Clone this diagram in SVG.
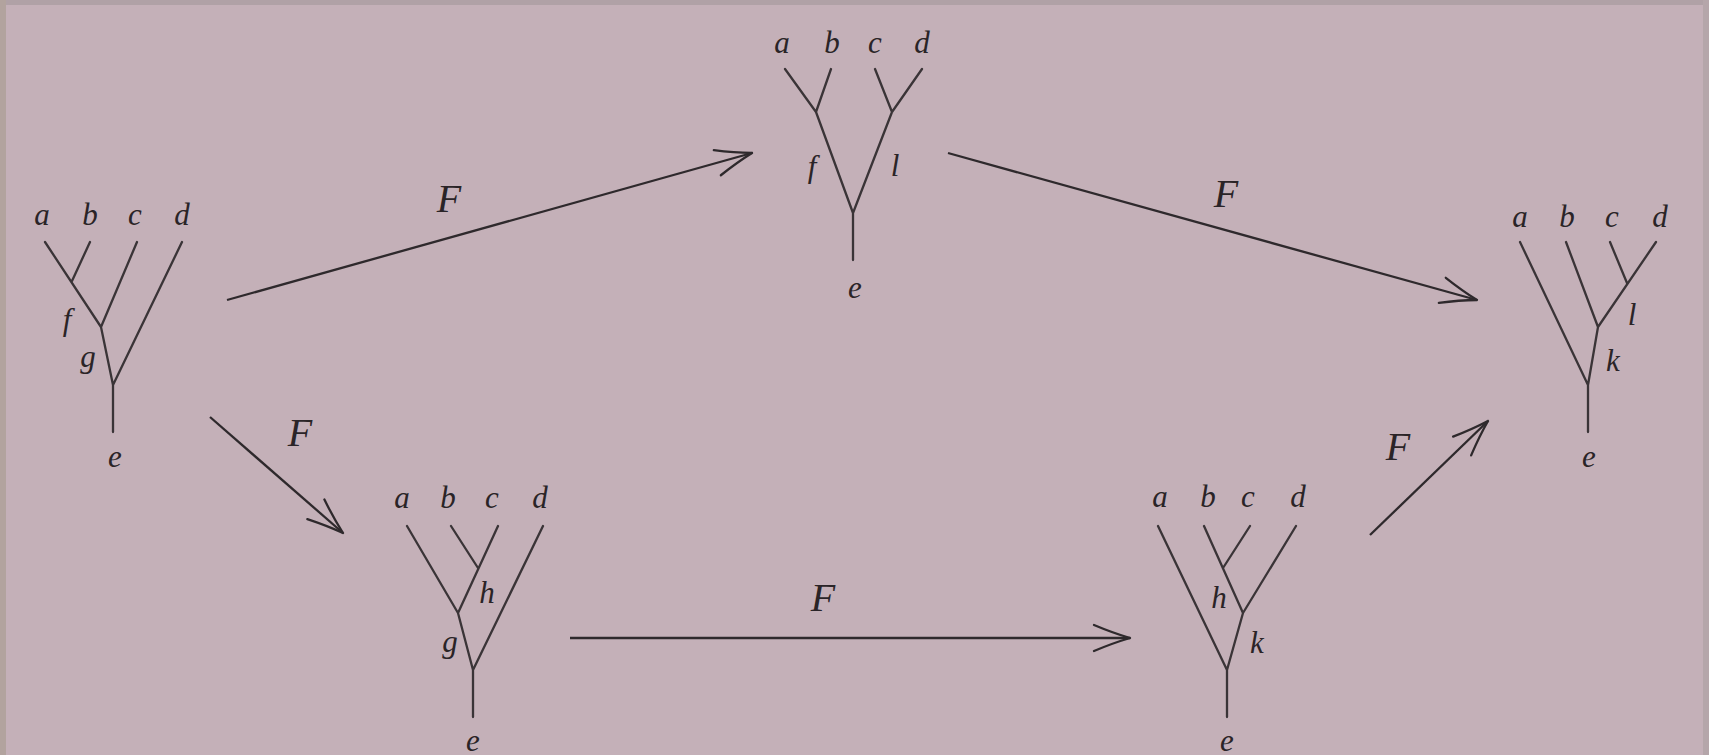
<svg xmlns="http://www.w3.org/2000/svg" width="1709" height="755" viewBox="0 0 1709 755">
<defs>
<style>
.bg{fill:#c4b0b8}
.ln{stroke:#3a3437;stroke-width:2.3;fill:none;stroke-linecap:round;stroke-linejoin:round}
.ar{stroke:#2e292c;stroke-width:2.3;fill:none}
.lb{font-family:"Liberation Serif",serif;font-style:italic;font-size:31px;fill:#2a2427;text-anchor:middle}
.F{font-family:"Liberation Serif",serif;font-style:italic;font-size:40px;fill:#2a2427;text-anchor:middle}
</style>
<marker id="head" markerUnits="userSpaceOnUse" viewBox="-40 -20 44 40" markerWidth="44" markerHeight="40" refX="0" refY="0" orient="auto" overflow="visible">
<path d="M-36,-13 Q-17,-5 0,0 M-36,13 Q-17,5 0,0" stroke="#2e292c" stroke-width="2.3" fill="none" stroke-linecap="round"/>
</marker>
</defs>
<rect class="bg" x="0" y="0" width="1709" height="755"/>
<rect x="0" y="0" width="1709" height="5" fill="#b0a1a6"/>
<rect x="0" y="0" width="6" height="755" fill="#b2a39e"/>
<rect x="1703" y="0" width="6" height="755" fill="#b5a6aa"/>

<g id="tree1">
<path class="ln" d="M45,242 L101,327 M90,242 L72,281 M137,242 L101,327 L113,385 M182,242 L113,385 L113,432"/>
<text class="lb" x="42" y="225">a</text>
<text class="lb" x="90" y="225">b</text>
<text class="lb" x="135" y="225">c</text>
<text class="lb" x="182" y="225">d</text>
<text class="lb" x="67" y="330">f</text>
<text class="lb" x="88" y="367">g</text>
<text class="lb" x="115" y="467">e</text>
</g>

<g id="tree2">
<path class="ln" d="M785,69 L816,112 M831,69 L816,112 L853,213 M875,69 L892,112 M922,69 L892,112 L853,213 L853,260"/>
<text class="lb" x="782" y="53">a</text>
<text class="lb" x="832" y="53">b</text>
<text class="lb" x="875" y="53">c</text>
<text class="lb" x="922" y="53">d</text>
<text class="lb" x="812" y="177">f</text>
<text class="lb" x="895" y="176">l</text>
<text class="lb" x="855" y="298">e</text>
</g>

<g id="tree3">
<path class="ln" d="M1520,242 L1588,385 L1588,432 M1566,242 L1598,327 L1588,385 M1656,242 L1598,327 M1610,242 L1627,283"/>
<text class="lb" x="1520" y="227">a</text>
<text class="lb" x="1567" y="227">b</text>
<text class="lb" x="1612" y="227">c</text>
<text class="lb" x="1660" y="227">d</text>
<text class="lb" x="1632" y="325">l</text>
<text class="lb" x="1613" y="371">k</text>
<text class="lb" x="1589" y="467">e</text>
</g>

<g id="tree4">
<path class="ln" d="M407,526 L458,613 L473,670 L473,717 M498,526 L458,613 M451,526 L478,568 M543,526 L473,670"/>
<text class="lb" x="402" y="508">a</text>
<text class="lb" x="448" y="508">b</text>
<text class="lb" x="492" y="508">c</text>
<text class="lb" x="540" y="508">d</text>
<text class="lb" x="487" y="603">h</text>
<text class="lb" x="450" y="652">g</text>
<text class="lb" x="473" y="751">e</text>
</g>

<g id="tree5">
<path class="ln" d="M1158,526 L1227,670 L1227,717 M1204,526 L1243,613 L1227,670 M1296,526 L1243,613 M1250,526 L1223,568"/>
<text class="lb" x="1160" y="507">a</text>
<text class="lb" x="1208" y="507">b</text>
<text class="lb" x="1248" y="507">c</text>
<text class="lb" x="1298" y="507">d</text>
<text class="lb" x="1219" y="608">h</text>
<text class="lb" x="1257" y="653">k</text>
<text class="lb" x="1227" y="751">e</text>
</g>

<g id="connectors">
<line class="ar" x1="227" y1="300" x2="752" y2="153" marker-end="url(#head)"/>
<line class="ar" x1="948" y1="153" x2="1477" y2="300" marker-end="url(#head)"/>
<line class="ar" x1="210" y1="417" x2="343" y2="533" marker-end="url(#head)"/>
<line class="ar" x1="1370" y1="535" x2="1488" y2="421" marker-end="url(#head)"/>
<line class="ar" x1="570" y1="638" x2="1130" y2="638" marker-end="url(#head)"/>
<text class="F" x="449" y="212">F</text>
<text class="F" x="1226" y="207">F</text>
<text class="F" x="300" y="446">F</text>
<text class="F" x="1398" y="460">F</text>
<text class="F" x="823" y="611">F</text>
</g>
</svg>
